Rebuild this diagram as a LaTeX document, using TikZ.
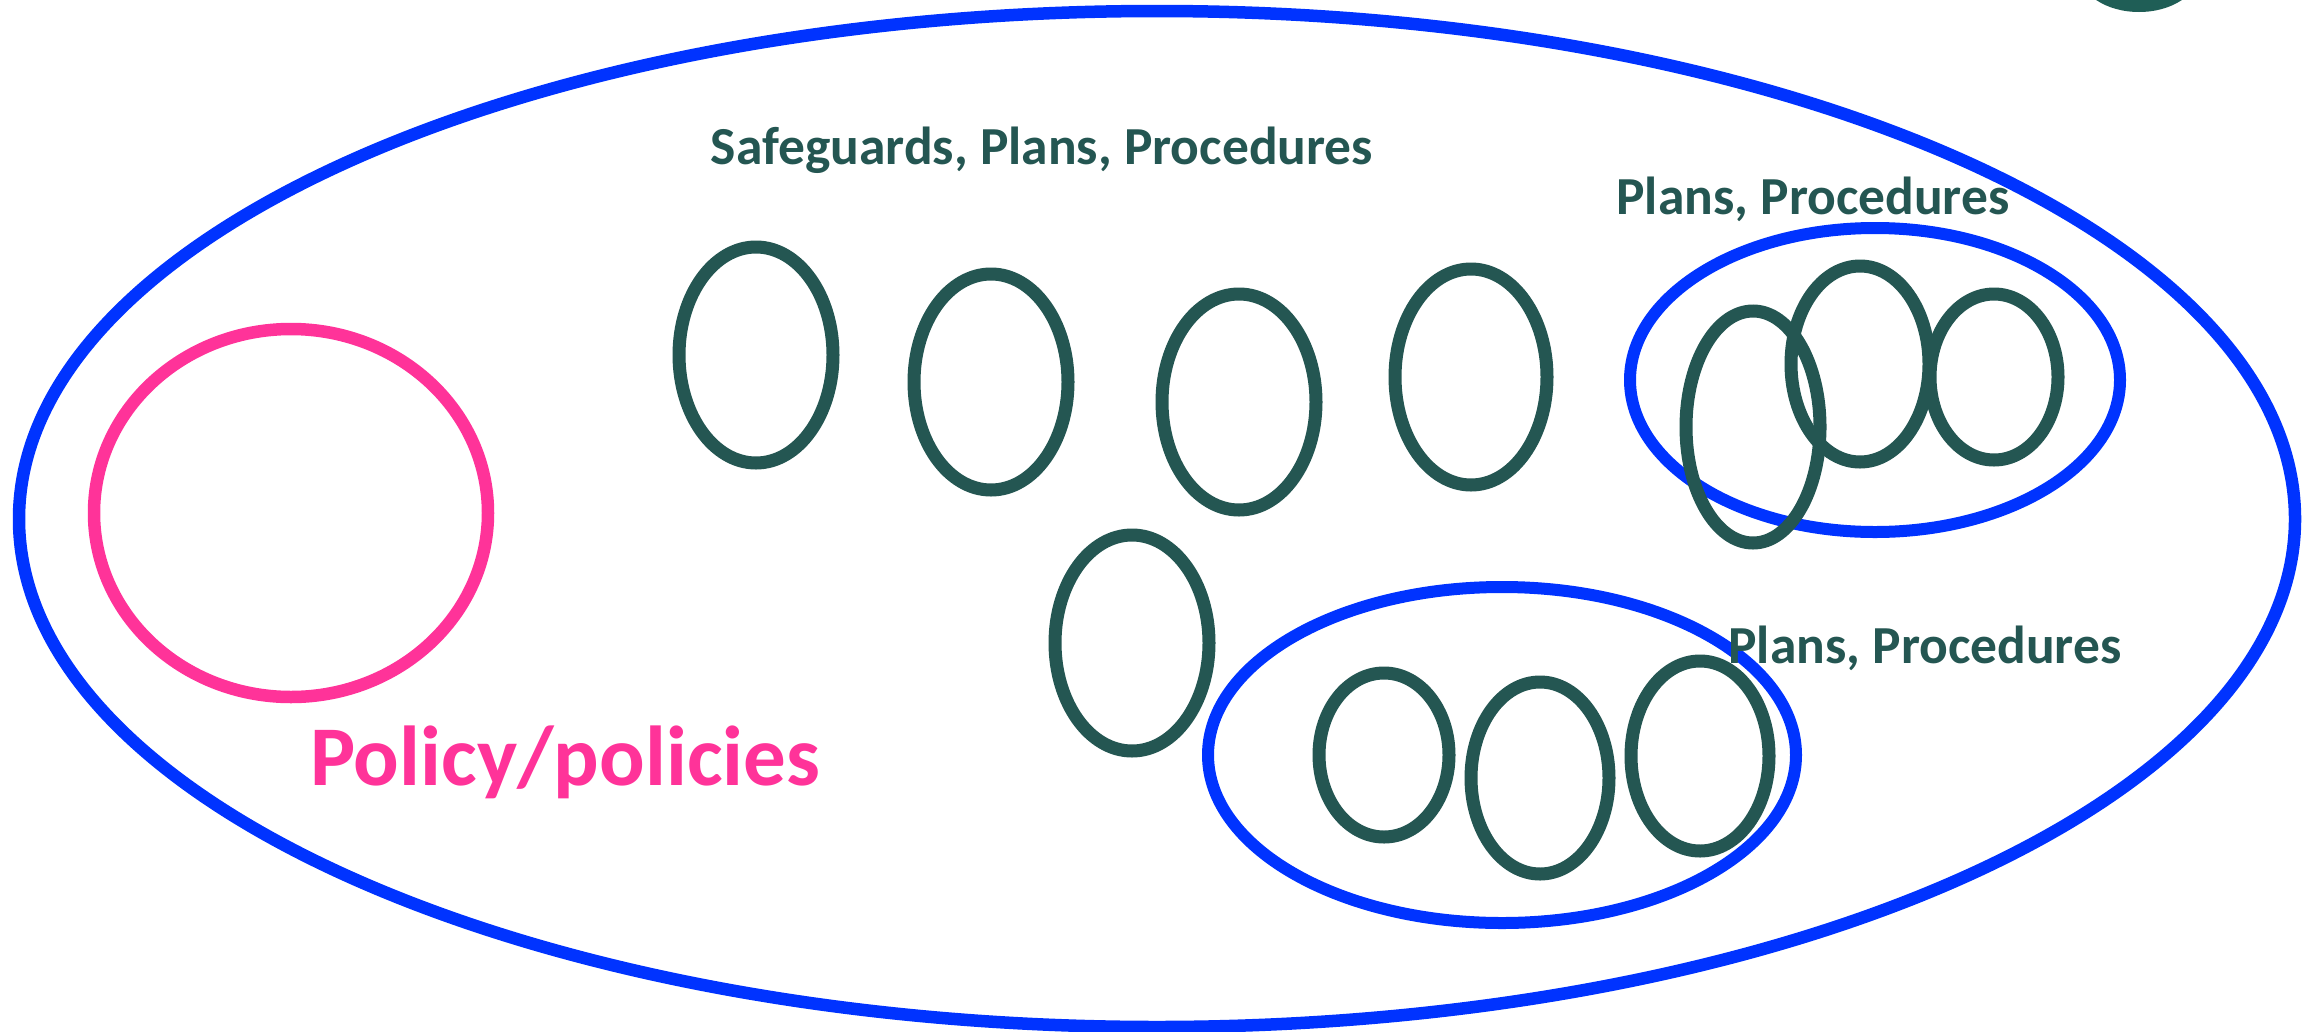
\documentclass[tikz,border=0pt]{standalone}
\usepackage{fontspec}
\setmainfont{Carlito}
\usetikzlibrary{shapes.geometric}
\definecolor{bblue}{HTML}{0033FF}
\definecolor{ppink}{HTML}{FF3399}
\definecolor{teal}{HTML}{245652}
\definecolor{tealfill}{HTML}{1F5E56}
\begin{document}
\begin{tikzpicture}[x=1pt,y=-1pt,
  bigell/.style={draw=bblue, line width=12.5pt},
  grp/.style={draw=bblue, line width=12pt, ellipse, inner sep=0pt},
  pol/.style={draw=ppink, line width=12.5pt, ellipse, inner sep=0pt},
  item/.style={draw=teal, line width=13pt, ellipse, inner sep=0pt},
  lbl/.style={inner sep=0pt, anchor=base, text=teal, font=\bfseries\fontsize{53.5}{60}\selectfont},
  plbl/.style={inner sep=0pt, anchor=base, text=ppink, font=\bfseries\fontsize{85}{95}\selectfont}]
\useasboundingbox (0,0) rectangle (2302,1031);
\clip (0,0) rectangle (2302,1031);
\fill[white] (0,0) rectangle (2302,1031);
% corner fragment
\fill[tealfill] (2139,-28) ellipse [x radius=60, y radius=40];
% outer ellipse
\draw[bigell] (1157,519) ellipse [x radius=1138, y radius=508];
\coordinate (outer) at (1157,519);
% policy
\node[pol, minimum width=394pt, minimum height=368pt] (policy) at (291,513) {};
\node[plbl] (policytxt) at (565,785) {Policy/policies};
% single items
\node[item, minimum width=154pt, minimum height=216pt] (s1) at (756,355) {};
\node[item, minimum width=154pt, minimum height=216pt] (s2) at (991,382) {};
\node[item, minimum width=154pt, minimum height=216pt] (s3) at (1239,402) {};
\node[item, minimum width=152pt, minimum height=216pt] (s4) at (1471,377) {};
\node[item, minimum width=154pt, minimum height=216pt] (s5) at (1132,643) {};
\node[lbl] (safetxt) at (1042,164) {Safeguards, Plans, Procedures};
% right group
\node[grp, minimum width=490pt, minimum height=304pt] (g1) at (1875,380) {};
\node[item, minimum width=134pt, minimum height=232pt] (g1a) at (1753,427) {};
\node[item, minimum width=138pt, minimum height=196pt] (g1b) at (1860,364) {};
\node[item, minimum width=128pt, minimum height=166pt] (g1c) at (1994,377) {};
\node[lbl] (g1txt) at (1813,214) {Plans, Procedures};
% bottom group
\node[grp, minimum width=588pt, minimum height=336pt] (g2) at (1502,755) {};
\node[item, minimum width=130pt, minimum height=164pt] (g2a) at (1384,755) {};
\node[item, minimum width=138pt, minimum height=192pt] (g2b) at (1540,778) {};
\node[item, minimum width=138pt, minimum height=190pt] (g2c) at (1700,756) {};
\node[lbl] (g2txt) at (1925,663) {Plans, Procedures};
\end{tikzpicture}
\end{document}
